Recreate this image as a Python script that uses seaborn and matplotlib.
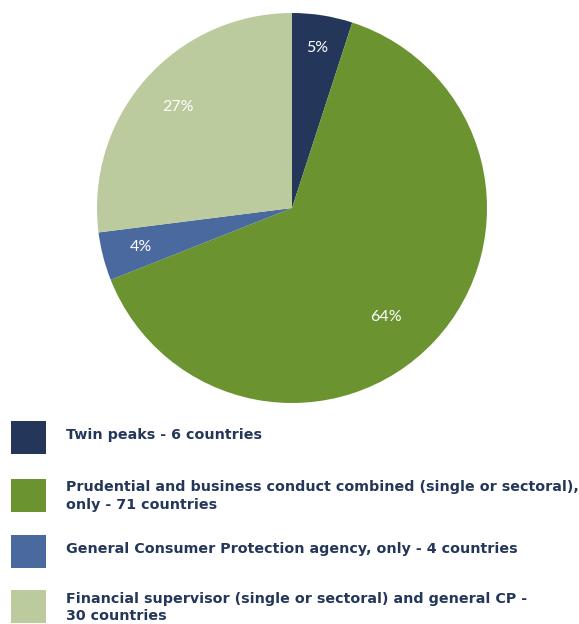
import matplotlib
matplotlib.use("Agg")
import numpy as np
import matplotlib.pyplot as plt
import seaborn as sns
from matplotlib.patches import Rectangle

# Institutional models of financial consumer protection
categories = [
    "Twin peaks - 6 countries",
    "Prudential and business conduct combined (single or sectoral),\nonly - 71 countries",
    "General Consumer Protection agency, only - 4 countries",
    "Financial supervisor (single or sectoral) and general CP -\n30 countries",
]
shares = [5, 64, 4, 27]  # percent of countries
colors = ["#243659", "#6b9430", "#4a699e", "#bccb9e"]
text_color = "#243659"

sns.set_theme(style="white")
plt.rcParams["font.family"] = ["DejaVu Sans"]

W, H = 579, 624
fig = plt.figure(figsize=(W / 100, H / 100), dpi=100)
fig.patch.set_facecolor("white")

# pie centred at (292, 208) px with radius 195 px
cx, cy, r = 292, 208, 195
ax = fig.add_axes([(cx - r) / W, (H - cy - r) / H, 2 * r / W, 2 * r / H])
wedges, texts, autotexts = ax.pie(
    shares,
    colors=colors,
    startangle=90,
    counterclock=False,
    autopct="%d%%",
    pctdistance=0.8,
    wedgeprops=dict(linewidth=0),
    textprops=dict(color="white", fontsize=11.5, family=["Lato", "DejaVu Sans"]),
)
# per-slice label distance and angular nudge (degrees)
label_dist = [0.83, 0.74, 0.80, 0.78]
label_turn = [0, -6, 0, 0]
for w, t, d, turn in zip(wedges, autotexts, label_dist, label_turn):
    a = np.deg2rad((w.theta1 + w.theta2) / 2 + turn)
    t.set_position((d * np.cos(a), d * np.sin(a)))

ax.set_xlim(-1, 1)
ax.set_ylim(-1, 1)
ax.set_aspect("equal")
ax.axis("off")

# legend: swatches and labels placed down the lower part of the figure
swatch_top = [421, 479, 535, 590]
label_mid = [435, 496, 549, 607.5]
for top, ty, label, col in zip(swatch_top, label_mid, categories, colors):
    fig.add_artist(Rectangle((11 / W, (H - top - 33) / H), 35 / W, 33 / H,
                             transform=fig.transFigure, facecolor=col,
                             edgecolor="none"))
    fig.text(66 / W, (H - ty) / H, label, ha="left", va="center",
             fontsize=10.3, fontweight="bold", color=text_color,
             linespacing=1.35)

fig.savefig("out.png", dpi=100)
